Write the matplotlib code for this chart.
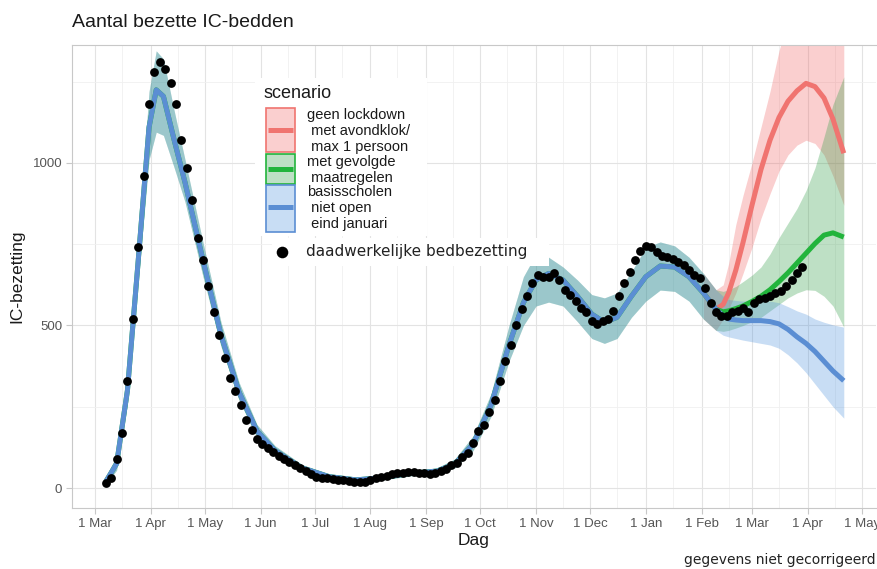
import numpy as np
import pandas as pd
import matplotlib
matplotlib.use("Agg")
import matplotlib.pyplot as plt
import matplotlib.dates as mdates
from matplotlib.patches import Rectangle
from matplotlib.ticker import FuncFormatter

plt.rcParams['font.family'] = ['Liberation Sans', 'DejaVu Sans']

start = pd.Timestamp("2020-03-01")

# daily IC occupancy, read every 3rd day from 7 Mar 2020
obs_ic = [15, 30, 90, 170, 330, 520, 740, 960, 1180, 1280,
          1310, 1290, 1245, 1180, 1070, 985, 886, 770, 700, 620,
          540, 470, 400, 340, 300, 255, 210, 180, 150, 135,
          122, 110, 98, 90, 80, 70, 62, 52, 42, 35,
          32, 30, 27, 25, 24, 22, 20, 18, 20, 25,
          30, 33, 37, 42, 45, 47, 50, 48, 47, 46,
          44, 47, 52, 60, 70, 78, 95, 108, 140, 175,
          195, 235, 270, 330, 390, 440, 500, 550, 590, 630,
          655, 650, 650, 660, 640, 610, 595, 575, 555, 540,
          515, 505, 515, 520, 545, 590, 630, 665, 700, 730,
          745, 740, 725, 715, 710, 705, 695, 685, 670, 655,
          645, 615, 570, 540, 530, 530, 540, 545, 555, 540,
          570, 580, 585, 590, 600, 605, 620, 640, 660, 680]
obs_dates = pd.date_range("2020-03-07", periods=len(obs_ic), freq="3D")

# model fit shared by the scenarios (days since 1 Mar 2020)
fit_day = [6, 12, 18, 24, 30, 34, 38, 44, 50, 60, 70, 80, 90, 100, 115, 130,
           145, 160, 175, 190, 200, 210, 220, 230, 238, 245, 252, 260, 268,
           276, 283, 290, 298, 306, 314, 322, 330, 338, 345]
fit_mid = [20, 75, 300, 700, 1110, 1225, 1205, 1070, 940, 700, 470, 295, 175,
           115, 62, 35, 25, 32, 45, 52, 75, 135, 255, 440, 570, 640, 660, 640,
           590, 535, 510, 525, 590, 650, 683, 680, 650, 600, 550]
fit_low = [10, 55, 260, 640, 1010, 1095, 1085, 985, 880, 650, 435, 270, 155,
           100, 52, 27, 18, 25, 37, 43, 62, 115, 220, 390, 500, 560, 572, 560,
           512, 460, 445, 460, 525, 575, 609, 605, 575, 520, 485]
fit_high = [35, 100, 340, 765, 1220, 1345, 1320, 1160, 1010, 755, 510, 325, 195,
            130, 72, 43, 33, 40, 53, 62, 90, 160, 290, 500, 650, 720, 710, 680,
            640, 595, 585, 600, 665, 740, 757, 745, 710, 660, 610]

# scenario projections
proj_day = [349, 352, 356, 360, 365, 370, 375, 380, 385, 390, 395, 400, 405,
            410, 416]
red_mid = [565, 600, 670, 755, 870, 980, 1070, 1140, 1190, 1222, 1245, 1235,
           1200, 1135, 1030]
red_low = [520, 550, 600, 660, 740, 830, 905, 975, 1025, 1055, 1070, 1060,
           1025, 960, 870]
red_high = [625, 690, 810, 900, 1000, 1110, 1220, 1345, 1440, 1510, 1570, 1610,
            1630, 1640, 1650]
green_mid = [542, 545, 552, 560, 574, 590, 610, 635, 662, 692, 722, 752, 778,
             785, 772]
green_low = [482, 485, 492, 500, 512, 525, 545, 565, 585, 600, 610, 608, 590,
             560, 495]
green_high = [605, 610, 620, 635, 655, 680, 720, 770, 815, 860, 915, 985, 1080,
              1180, 1265]
blue_mid = [530, 520, 517, 515, 515, 515, 512, 505, 488, 465, 445, 420, 390,
            360, 330]
blue_low = [470, 465, 460, 455, 450, 445, 440, 430, 410, 385, 355, 320, 285,
            250, 215]
blue_high = [590, 580, 577, 575, 576, 578, 575, 570, 558, 545, 535, 520, 510,
             502, 495]

# (fill colour, line colour, first shared knot, mid, low, high)
scenarios = [
    ("#F06060", "#F07470", -2, red_mid, red_low, red_high),
    ("#2A9A40", "#22B43C", 0, green_mid, green_low, green_high),
    ("#4A90DC", "#5B8ED3", 0, blue_mid, blue_low, blue_high),
]

W, H = 877, 569
fig = plt.figure(figsize=(W / 100, H / 100), dpi=100)
ax = fig.add_axes([72 / W, 1 - 508 / H, (876 - 72) / W, (508 - 45) / H])

for fill_col, line_col, k, mid, low, high in scenarios:
    d = pd.to_timedelta(fit_day[k:] + proj_day, unit="D") + start
    ax.fill_between(d, fit_low[k:] + low, fit_high[k:] + high, color=fill_col,
                    alpha=0.3, lw=0, zorder=2)
    ax.plot(d, fit_mid[k:] + mid, color=line_col, lw=3.6, zorder=3,
            solid_capstyle="butt", solid_joinstyle="round")

ax.scatter(obs_dates, obs_ic, s=40, color="black", zorder=5, lw=0)

ax.set_xlim(start - pd.Timedelta(days=12.8), start + pd.Timedelta(days=433.9))
ax.set_ylim(-61.5, 1363)
ax.set_yticks([0, 500, 1000])
ax.set_yticks([250, 750, 1250], minor=True)
ax.xaxis.set_major_locator(mdates.MonthLocator())
ax.xaxis.set_minor_locator(mdates.MonthLocator(bymonthday=16))
ax.xaxis.set_major_formatter(FuncFormatter(
    lambda v, p: "1 " + mdates.num2date(v).strftime("%b")))
ax.grid(which="major", color="#e3e3e3", lw=0.8, zorder=0)
ax.grid(which="minor", color="#f0f0f0", lw=0.6, zorder=0)
ax.set_axisbelow(True)
for s in ax.spines.values():
    s.set_color("#c8c8c8")
    s.set_linewidth(0.8)
ax.spines["right"].set_visible(False)
ax.tick_params(which="major", length=4, color="#c8c8c8", labelsize=9.5,
               labelcolor="#555555", pad=3)
ax.tick_params(which="minor", length=0)
ax.set_xlabel("Dag", fontsize=12.5, color="#1a1a1a", labelpad=2)
ax.set_ylabel("IC-bezetting", fontsize=12.5, color="#1a1a1a", labelpad=6)

# overlay in pixel coordinates for title, legend and caption
ov = fig.add_axes([0, 0, 1, 1], zorder=10)
ov.set_xlim(0, W)
ov.set_ylim(H, 0)
ov.axis("off")
ov.patch.set_alpha(0)

ov.text(72, 22, "Aantal bezette IC-bedden", fontsize=14, color="#1a1a1a",
        va="center", ha="left")
ov.text(876, 560, "gegevens niet gecorrigeerd", fontsize=10, color="#222222",
        va="center", ha="right", family="DejaVu Sans")

ov.add_patch(Rectangle((255, 78), 172, 158, facecolor="white", lw=0))
ov.add_patch(Rectangle((272, 238), 277, 28, facecolor="white", lw=0))
ov.text(263, 93, "scenario", fontsize=13, color="#1a1a1a", va="center")

keys = [
    (108, 152, 130, "#F06060", "#F07470",
     ["geen lockdown", " met avondklok/", " max 1 persoon"], 115),
    (154, 184, 169, "#2A9A40", "#22B43C",
     ["met gevolgde", " maatregelen"], 162),
    (185, 232, 207, "#4A90DC", "#5B8ED3",
     ["basisscholen", " niet open", " eind januari"], 192),
]
for y0, y1, ym, fcol, lcol, lines, ty in keys:
    ov.add_patch(Rectangle((266, y0), 29, y1 - y0, facecolor=fcol, alpha=0.3,
                           edgecolor="none"))
    ov.add_patch(Rectangle((266, y0), 29, y1 - y0, facecolor="none",
                           edgecolor=lcol, lw=1.2))
    ov.plot([268, 293], [ym, ym], color=lcol, lw=3.6, solid_capstyle="butt")
    for i, t in enumerate(lines):
        ov.text(307, ty + 16 * i, t, fontsize=10.5, color="#1a1a1a",
                va="center")

ov.scatter([282], [252], s=70, color="black", lw=0)
ov.text(306, 251, "daadwerkelijke bedbezetting", fontsize=11,
        color="#222222", va="center", family="DejaVu Sans")

fig.savefig("out.png", dpi=100)
